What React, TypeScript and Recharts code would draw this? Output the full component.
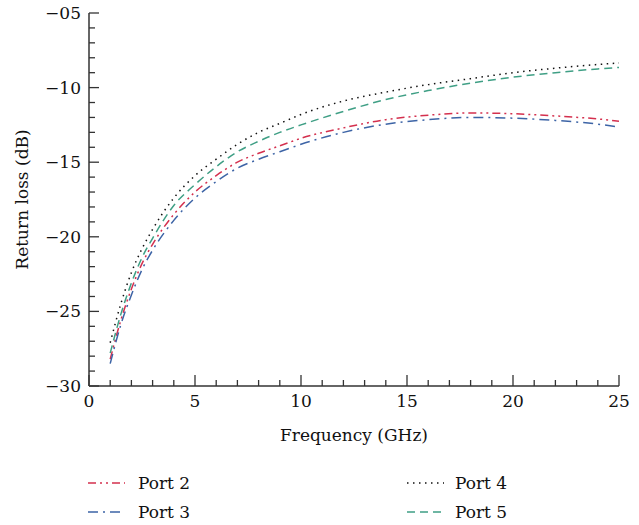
import { LineChart, Line, XAxis, YAxis } from 'recharts'

const FREQ = [1, 1.5, 2, 2.5, 3, 4, 5, 6, 7, 8, 9, 10, 12, 14, 16, 18, 20, 22, 24, 25]
const PORT2 = [-28.2, -25.6, -23.5, -21.8, -20.5, -18.5, -17.0, -15.9, -15.0, -14.4, -13.9, -13.4, -12.7, -12.15, -11.85, -11.7, -11.75, -11.9, -12.1, -12.25]
const PORT3 = [-28.5, -25.9, -23.9, -22.2, -20.9, -18.9, -17.4, -16.3, -15.4, -14.8, -14.3, -13.8, -13.0, -12.45, -12.15, -12.0, -12.05, -12.2, -12.45, -12.65]
const PORT4 = [-27.1, -24.5, -22.4, -20.8, -19.5, -17.4, -15.9, -14.8, -13.8, -13.0, -12.4, -11.8, -10.9, -10.3, -9.8, -9.4, -9.0, -8.7, -8.45, -8.35]
const PORT5 = [-27.8, -25.2, -23.1, -21.4, -20.1, -17.9, -16.5, -15.3, -14.3, -13.6, -13.0, -12.5, -11.6, -10.8, -10.2, -9.7, -9.3, -9.0, -8.75, -8.65]

const X_TICKS = Array.from({ length: 26 }, (_, i) => i)
const Y_TICKS = Array.from({ length: 26 }, (_, i) => -30 + i)
const X_MAJOR = [0, 5, 10, 15, 20, 25]
const Y_MAJOR = [-30, -25, -20, -15, -10, -5]

const SERIES = [
  { key: 'p2', name: 'Port 2', color: '#d4304e', dash: '8 4 2 4 2 4' },
  { key: 'p3', name: 'Port 3', color: '#3d64a6', dash: '10 5 2 5' },
  { key: 'p4', name: 'Port 4', color: '#111111', dash: '1.5 4.5' },
  { key: 'p5', name: 'Port 5', color: '#3f9f85', dash: '8 5' },
]

const data = FREQ.map((f, i) => ({ f, p2: PORT2[i], p3: PORT3[i], p4: PORT4[i], p5: PORT5[i] }))

// only serif face that actually renders in the sandbox
const FONT = "'DejaVu Serif', serif"
const AXIS = '#333'
const TXT = { fontFamily: FONT, fontSize: 17, fill: '#111' }

const fmtY = (v: number) => (v === -5 ? '\u221205' : '\u2212' + Math.abs(v))

function BottomTick({ x, y, payload }: any) {
  const major = X_MAJOR.includes(payload.value)
  return (
    <g>
      <line x1={x} x2={x} y1={y} y2={y - (major ? 11 : 6)} stroke={AXIS} strokeWidth={1.3} />
      {major && (
        <text x={x} y={y + 21} textAnchor="middle" style={TXT}>
          {payload.value}
        </text>
      )}
    </g>
  )
}

function TopTick({ x, y, payload }: any) {
  const major = X_MAJOR.includes(payload.value)
  return <line x1={x} x2={x} y1={y} y2={y + (major ? 11 : 6)} stroke={AXIS} strokeWidth={1.3} />
}

function LeftTick({ x, y, payload }: any) {
  const major = Y_MAJOR.includes(payload.value)
  return (
    <g>
      <line x1={x} x2={x + (major ? 10 : 6)} y1={y} y2={y} stroke={AXIS} strokeWidth={1.3} />
      {major && (
        <text x={x - 8} y={y + 6} textAnchor="end" style={TXT}>
          {fmtY(payload.value)}
        </text>
      )}
    </g>
  )
}

function RightTick({ x, y, payload }: any) {
  const major = Y_MAJOR.includes(payload.value)
  return <line x1={x} x2={x - (major ? 10 : 6)} y1={y} y2={y} stroke={AXIS} strokeWidth={1.3} />
}

function LegendBlock() {
  const cols = [
    { items: [SERIES[0], SERIES[1]], lx: 88, tx: 138 },
    { items: [SERIES[2], SERIES[3]], lx: 407, tx: 455 },
  ]
  return (
    <svg width={639} height={60} style={{ position: 'absolute', left: 0, top: 465 }}>
      {cols.map((c, ci) =>
        c.items.map((s, ri) => {
          const y = 18 + ri * 29
          return (
            <g key={ci + '-' + ri}>
              <line x1={c.lx} x2={c.lx + 37} y1={y} y2={y} stroke={s.color} strokeWidth={1.5} strokeDasharray={s.dash} />
              <text x={c.tx} y={y + 6} style={TXT}>
                {s.name}
              </text>
            </g>
          )
        }),
      )}
    </svg>
  )
}

export default function App() {
  return (
    <div style={{ position: 'absolute', left: 0, top: 0, width: 639, height: 525, background: '#fff', fontFamily: FONT }}>
      <LineChart width={639} height={525} data={data} margin={{ top: 13, right: 20, bottom: 89, left: 0 }}>
        <XAxis
          dataKey="f"
          type="number"
          domain={[0, 25]}
          ticks={X_TICKS}
          interval={0}
          height={50}
          tickSize={0}
          tickMargin={0}
          tickLine={false}
          axisLine={{ stroke: AXIS, strokeWidth: 1.5 }}
          tick={<BottomTick />}
          label={{
            content: ({ viewBox }: any) => (
              <text x={viewBox.x + viewBox.width / 2} y={viewBox.y + 55} textAnchor="middle" style={TXT}>
                Frequency (GHz)
              </text>
            ),
          }}
        />
        <XAxis
          xAxisId="top"
          orientation="top"
          type="number"
          domain={[0, 25]}
          ticks={X_TICKS}
          interval={0}
          height={0}
          tickSize={0}
          tickMargin={0}
          tickLine={false}
          axisLine={{ stroke: AXIS, strokeWidth: 1.5 }}
          tick={<TopTick />}
        />
        <YAxis
          type="number"
          domain={[-30, -5]}
          ticks={Y_TICKS}
          interval={0}
          width={89}
          tickSize={0}
          tickMargin={0}
          tickLine={false}
          axisLine={{ stroke: AXIS, strokeWidth: 1.5 }}
          tick={<LeftTick />}
          label={{
            content: ({ viewBox }: any) => {
              const cx = 28
              const cy = viewBox.y + viewBox.height / 2
              return (
                <text x={cx} y={cy} transform={`rotate(-90 ${cx} ${cy})`} textAnchor="middle" style={TXT}>
                  Return loss (dB)
                </text>
              )
            },
          }}
        />
        <YAxis
          yAxisId="right"
          orientation="right"
          type="number"
          domain={[-30, -5]}
          ticks={Y_TICKS}
          interval={0}
          width={0}
          tickSize={0}
          tickMargin={0}
          tickLine={false}
          axisLine={{ stroke: AXIS, strokeWidth: 1.5 }}
          tick={<RightTick />}
        />
        {SERIES.map(s => (
          <Line
            key={s.key}
            dataKey={s.key}
            name={s.name}
            type="monotone"
            stroke={s.color}
            strokeWidth={1.5}
            strokeDasharray={s.dash}
            dot={false}
            isAnimationActive={false}
          />
        ))}
      </LineChart>
      <LegendBlock />
    </div>
  )
}
